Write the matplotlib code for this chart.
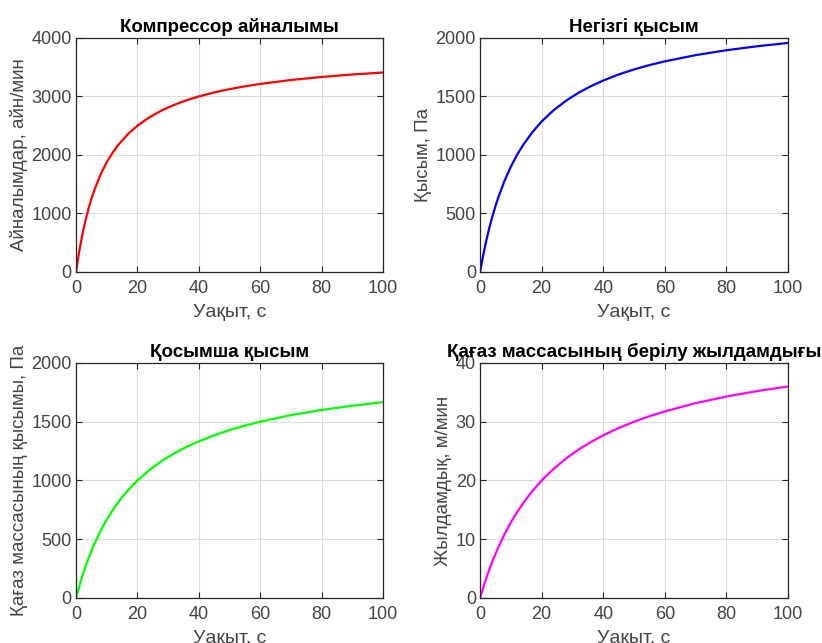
import numpy as np
import matplotlib
matplotlib.use("Agg")
import matplotlib.pyplot as plt

plt.rcParams['font.family'] = ['Liberation Sans', 'DejaVu Sans']

# time samples, s
t = [0, 1, 2, 3, 4, 5, 6, 8, 10, 12, 14, 17, 20, 24, 28, 32, 36, 40,
     45, 50, 55, 60, 70, 80, 90, 100]

# compressor speed, rpm
rpm = [0, 341, 625, 865, 1071, 1250, 1406, 1667, 1875, 2045, 2188, 2361,
       2500, 2647, 2763, 2857, 2935, 3000, 3068, 3125, 3173, 3214, 3281,
       3333, 3375, 3409]

# main pressure, Pa
p_main = [0, 141, 265, 375, 474, 563, 643, 783, 900, 1000, 1086, 1195,
          1286, 1385, 1465, 1532, 1588, 1636, 1688, 1731, 1768, 1800, 1853,
          1895, 1929, 1957]

# additional pressure, Pa
p_add = [0, 95, 182, 261, 333, 400, 462, 571, 667, 750, 824, 919, 1000,
         1091, 1167, 1231, 1286, 1333, 1385, 1429, 1467, 1500, 1556, 1600,
         1636, 1667]

# paper mass feed speed, m/min
speed = [0, 1.73, 3.33, 4.82, 6.21, 7.5, 8.71, 10.91, 12.86, 14.59, 16.15,
         18.21, 20, 22.04, 23.77, 25.26, 26.56, 27.69, 28.93, 30, 30.94,
         31.76, 33.16, 34.29, 35.22, 36]

panels = [
    (rpm, 'r', 'Компрессор айналымы', 'Айналымдар, айн/мин', [0, 4000], [0, 1000, 2000, 3000, 4000]),
    (p_main, 'b', 'Негізгі қысым', 'Қысым, Па', [0, 2000], [0, 500, 1000, 1500, 2000]),
    (p_add, '#00ff00', 'Қосымша қысым', 'Қағаз массасының қысымы, Па', [0, 2000], [0, 500, 1000, 1500, 2000]),
    (speed, '#ff00ff', 'Қағаз массасының берілу жылдамдығы', 'Жылдамдық, м/мин', [0, 40], [0, 10, 20, 30, 40]),
]

positions = [
    [0.0925, 0.577, 0.3735, 0.364],
    [0.584, 0.577, 0.3747, 0.364],
    [0.0925, 0.070, 0.3735, 0.3655],
    [0.584, 0.070, 0.3747, 0.3655],
]

gray = '#444444'

fig = plt.figure(figsize=(8.22, 6.43), dpi=100)

for (vals, col, title, ylab, ylim, yticks), pos in zip(panels, positions):
    ax = fig.add_axes(pos)
    ax.plot(t, vals, color=col, linewidth=1.6)
    ax.set_xlim(0, 100)
    ax.set_ylim(ylim)
    ax.set_xticks([0, 20, 40, 60, 80, 100])
    ax.set_yticks(yticks)
    ax.grid(True, color='#dcdcdc', linewidth=0.8)
    ax.set_axisbelow(True)
    ax.tick_params(direction='in', length=4, width=0.8, labelsize=13,
                   colors='#262626', labelcolor=gray, top=True, right=True)
    ax.tick_params(axis='x', pad=6)
    ax.tick_params(axis='y', pad=3)
    for s in ax.spines.values():
        s.set_color('#262626')
        s.set_linewidth(0.9)
    ax.set_title(title, fontsize=13.5, fontweight='bold', color='black', pad=4)
    ax.set_xlabel('Уақыт, с', fontsize=14, color=gray, labelpad=5)
    ax.set_ylabel(ylab, fontsize=13.5, color=gray, labelpad=2.5)

plt.savefig('out.png', dpi=100)
